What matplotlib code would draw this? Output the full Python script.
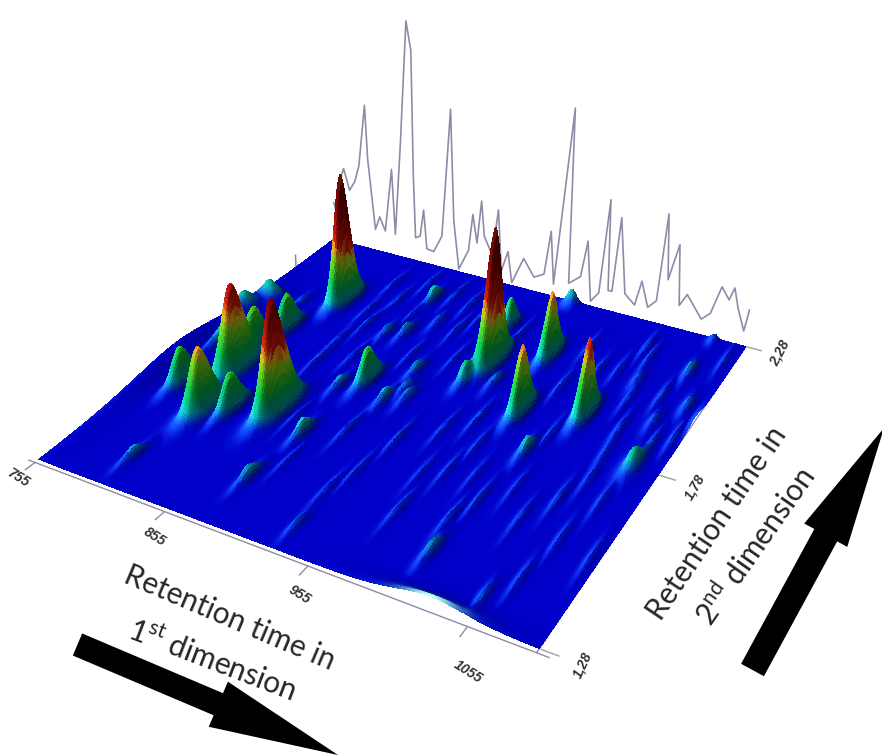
import numpy as np
import matplotlib
matplotlib.use('Agg')
import matplotlib.pyplot as plt
from matplotlib.colors import LightSource, LinearSegmentedColormap, Normalize
from matplotlib.patches import FancyArrow

plt.rcParams['font.family'] = ['Lato', 'DejaVu Sans']
plt.rcParams['mathtext.fontset'] = 'custom'
plt.rcParams['mathtext.rm'] = 'Lato'

W, H = 882, 756

# peaks: 1st dim time, 2nd dim time, height, widths
peak_rt1 = [815, 801, 853, 811, 827, 779, 796, 802, 764, 758, 887, 908, 873, 866, 878, 909, 914, 882, 804, 879, 789,
            949, 938, 992, 980, 1030, 963, 944, 872, 1014, 1078, 1072, 1072, 1085, 1072, 1045, 891, 920, 962, 1009, 1052, 930, 770]
peak_rt2 = [2.04, 1.70, 1.62, 1.55, 1.58, 1.61, 1.79, 1.88, 1.98, 1.91, 1.79, 1.75, 1.75, 1.97, 1.99, 1.87, 1.80, 1.58, 1.37, 1.42, 1.99,
            1.97, 2.12, 1.84, 2.05, 1.89, 2.27, 1.88, 2.14, 1.73, 1.78, 2.13, 2.27, 2.01, 1.93, 2.05, 2.06, 1.78, 1.91, 1.40, 1.34, 1.35, 1.78]
peak_h = [130, 85, 107, 62, 37, 36, 40, 38, 17, 15, 35, 12, 10, 8, 10, 10, 8, 15, 10, 12, 6,
          132, 30, 65, 65, 74, 15, 20, 15, 14, 18, 10, 6, 8, 6, 6, 6, 8, 8, 10, 6, 6, 14]
peak_s1 = [4.4, 5.6, 5, 5.6, 3.4, 4, 3.8, 3.4, 7, 6, 3.4, 2.6, 2.6, 2.6, 2.6, 2.6, 2.6, 2.6, 2.6, 2.6, 2.6,
           4.2, 3.2, 3.4, 3.4, 3.4, 4, 3, 2.6, 2.6, 4, 2.6, 2.6, 2.6, 2.6, 2.6, 2.6, 2.6, 2.6, 2.6, 2.2, 2.2, 3]
peak_s2 = [.04, .05, .05, .045, .04, .04, .04, .04, .025, .03, .04, .035, .035, .035, .035, .035, .035, .035, .035, .035, .035,
           .045, .03, .04, .04, .04, .02, .03, .035, .035, .04, .035, .02, .035, .035, .035, .035, .035, .035, .04, .035, .035, .05]

# faint streaks
minor_rt1 = [972, 981, 1011, 1040, 1052, 1060, 1056, 1029, 1042, 1017, 1090, 938, 933, 927, 974, 1004, 1068, 1090, 1063, 905, 841, 838, 850, 908, 843,
             835, 848, 858, 862, 884, 896, 900, 915, 925, 958, 968, 985, 998, 1003, 1020, 1035, 1048, 1058, 1066, 1080, 1088, 845, 868, 890, 950, 1025, 1075, 870, 1000]
minor_rt2 = [1.78, 1.61, 1.56, 1.55, 1.63, 1.71, 1.88, 2.07, 2.14, 2.05, 1.90, 1.65, 1.53, 1.46, 1.47, 1.49, 1.53, 1.51, 1.41, 1.63, 1.90, 2.03, 2.10, 2.05, 1.81,
             2.16, 1.98, 2.20, 1.86, 2.18, 1.92, 2.16, 2.12, 1.95, 1.72, 1.58, 1.70, 1.62, 1.96, 1.80, 2.18, 1.98, 1.80, 2.02, 1.86, 2.20, 1.70, 1.62, 1.50, 2.10, 1.62, 1.66, 2.06, 2.12]
minor_h = [5, 4, 5, 4, 5, 4, 5, 4, 5, 4, 5, 5, 4, 4, 5, 5, 4, 4, 4, 5, 4, 4, 5, 5, 5,
           4, 5, 4, 4, 5, 4, 5, 4, 4, 4, 3, 4, 3, 5, 4, 5, 4, 4, 5, 5, 4, 3, 3, 3, 4, 3, 4, 4, 4]

# broad rises at the edges of the plane, no colour change on the first
rise_rt1 = [755, 1030, 1095]
rise_rt2 = [1.69, 1.28, 1.97]
rise_h = [14, 10, 5]
rise_s1 = [9, 30, 2]
rise_s2 = [.2, .02, .05]

# first dimension projection on the back wall
chrom_rt1 = [756, 759, 763, 766, 771, 776, 780, 786, 788, 794, 798, 803, 809, 812, 817, 822, 826, 828, 830, 834, 837, 840, 846, 853, 859, 863, 868, 876, 879, 883, 886, 889, 896, 900, 904, 909, 913, 922, 931, 939, 943, 947, 956, 959, 968, 972, 977, 983, 987, 990, 993, 996, 1003, 1011, 1015, 1021, 1027, 1030, 1034, 1040, 1044, 1049, 1061, 1067, 1073, 1079, 1082, 1086, 1092, 1094]
chrom_z = [41, 27, 70, 81, 59, 70, 88, 152, 97, 23, 38, 24, 92, 23, 123, 242, 215, 92, 25, 28, 57, 16, 15, 34, 166, 54, 3, 26, 65, 36, 81, 45, 27, 76, 13, 35, 3, 32, 15, 21, 67, 13, 191, 18, 28, 66, 5, 16, 112, 21, 21, 97, 22, 13, 39, 14, 23, 111, 47, 84, 24, 37, 16, 24, 53, 42, 55, 36, 15, 37]
stub_rt1 = [717, 717]
stub_z = [-31, -46]

rt1_ticks = [755, 855, 955, 1055]
rt1_labels = ['755', '855', '955', '1055']
rt2_ticks = [1.28, 1.78, 2.28]
rt2_labels = ['1,28', '1,78', '2,28']

x = np.linspace(755, 1095, 420)
y = np.linspace(1.28, 2.28, 260)
X, Y = np.meshgrid(x, y)


def bumps(rt1, rt2, hs, s1s, s2s):
    out = np.zeros_like(X)
    for r1, r2, h, s1, s2 in zip(rt1, rt2, hs, s1s, s2s):
        r = np.hypot((X - r1) / s1, (Y - r2) / s2)
        out += h * np.exp(-r ** 1.8)
    return out


Zc = bumps(peak_rt1, peak_rt2, peak_h, peak_s1, peak_s2)
Zc += bumps(minor_rt1, minor_rt2, minor_h, [1.8] * len(minor_h), [.045] * len(minor_h))
Zr = bumps(rise_rt1[1:2], rise_rt2[1:2], rise_h[1:2], rise_s1[1:2], rise_s2[1:2])
Zc += Zr + bumps(rise_rt1[2:], rise_rt2[2:], rise_h[2:], rise_s1[2:], rise_s2[2:])
Z = Zc + bumps(rise_rt1[:1], rise_rt2[:1], rise_h[:1], rise_s1[:1], rise_s2[:1])

cmap = LinearSegmentedColormap.from_list('surf', [
    (0, '#0000c8'), (.03, '#0010c8'), (.09, '#008a9a'), (.22, '#00a838'), (.38, '#70c810'),
    (.46, '#f0a818'), (.54, '#d01808'), (.78, '#800000'), (1, '#601000')])
rgb = cmap(Normalize(0, 130)(Zc))[..., :3]

# light from the front left, cyan glare on lit foot slopes and dark on the far side
ls = LightSource(azdeg=315, altdeg=40)
shade = ls.hillshade(Z, vert_exag=.2, dx=1, dy=1)
delta = shade - np.median(shade)
delta = np.sign(delta) * np.abs(delta) ** .7
dark = np.clip(1 + 1.3 * np.minimum(delta, 0), .5, 1)[..., None]
glare = (np.clip(delta, 0, None) * np.exp(-Zc / 30))[..., None] * np.array([.6, 1.9, 1.7])
rgb = np.clip(rgb * dark + glare, 0, 1)

# pale band along the front rise
t = (np.clip(Zr / max(rise_h[1], 1), 0, 1) ** 3)[..., None]
rgb = rgb * (1 - t) + np.array([.75, 1, 1]) * t

fig = plt.figure(figsize=(W / 100, H / 100), dpi=100)
S = 767.1
ax = fig.add_axes([20.5 / W, 51.9 / H, S / W, S / H], projection='3d', computed_zorder=False)
ax.set_xlim(755, 1095)
ax.set_ylim(1.28, 2.28)
ax.set_zlim(0, 172)
ax.view_init(29.871, -60.807)
ax.set_proj_type('persp', focal_length=.342)
ax.set_box_aspect((1, 1.011, .4))
ax.set_axis_off()

line_col = '#8c8ca8'
ax.plot(chrom_rt1, [2.28] * len(chrom_rt1), chrom_z, color=line_col, lw=1.2, zorder=1)
ax.plot(stub_rt1, [2.28] * 2, stub_z, color=line_col, lw=1.2, zorder=1)
# axis lines
ax.plot([1095, 1095], [1.27, 2.28], [0, 0], color=line_col, lw=1, zorder=1)
ax.plot_surface(X, Y, Z, facecolors=rgb, rstride=1, cstride=1, linewidth=0, antialiased=False, shade=False, zorder=2)
ax.plot([750, 1102], [1.27, 1.27], [0, 0], color=line_col, lw=1, zorder=3)
for t in rt1_ticks:
    ax.plot([t, t], [1.27, 1.245], [0, 0], color=line_col, lw=1, zorder=3)
for t in rt2_ticks:
    ax.plot([1096, 1106], [t, t], [0, 0], color='#a0a0a0', lw=1, zorder=3)

# overlay in picture pixels for the annotation
over = fig.add_axes([0, 0, 1, 1], zorder=5)
over.set_xlim(0, W)
over.set_ylim(H, 0)
over.axis('off')
over.patch.set_alpha(0)

for s, px, py in zip(rt1_labels, [18, 155, 300, 468], [478, 537, 595, 672]):
    over.text(px, py, s, rotation=-32, ha='center', va='center', fontsize=10, style='italic', weight='bold',
              family='Liberation Sans', color='#333333')
for s, px, py, rot in zip(rt2_labels, [583, 695, 780], [665, 487, 353], [65, 60, 62]):
    over.text(px, py, s, rotation=rot, ha='center', va='center', fontsize=10, style='italic', weight='bold',
              family='Liberation Sans', color='#333333')

txt = '#262626'
kw = dict(ha='center', va='center', rotation_mode='anchor', fontsize=21.5, color=txt)
over.text(230, 618, 'Retention time in', rotation=-23, **kw)
over.text(212, 660, r'1$^{\mathrm{st}}$ dimension', rotation=-21, **kw)
over.text(717, 523, 'Retention time in', rotation=56, **kw)
over.text(755, 546, r'2$^{\mathrm{nd}}$ dimension', rotation=55, **kw)

over.add_patch(FancyArrow(77.5, 644.5, 260.5, 110.5, width=24, head_width=49, head_length=130,
                          length_includes_head=True, color='black', lw=0))
over.add_patch(FancyArrow(752.5, 670, 131.5, -242, width=26, head_width=49, head_length=122,
                          length_includes_head=True, color='black', lw=0))

fig.savefig('out.png', dpi=100)
